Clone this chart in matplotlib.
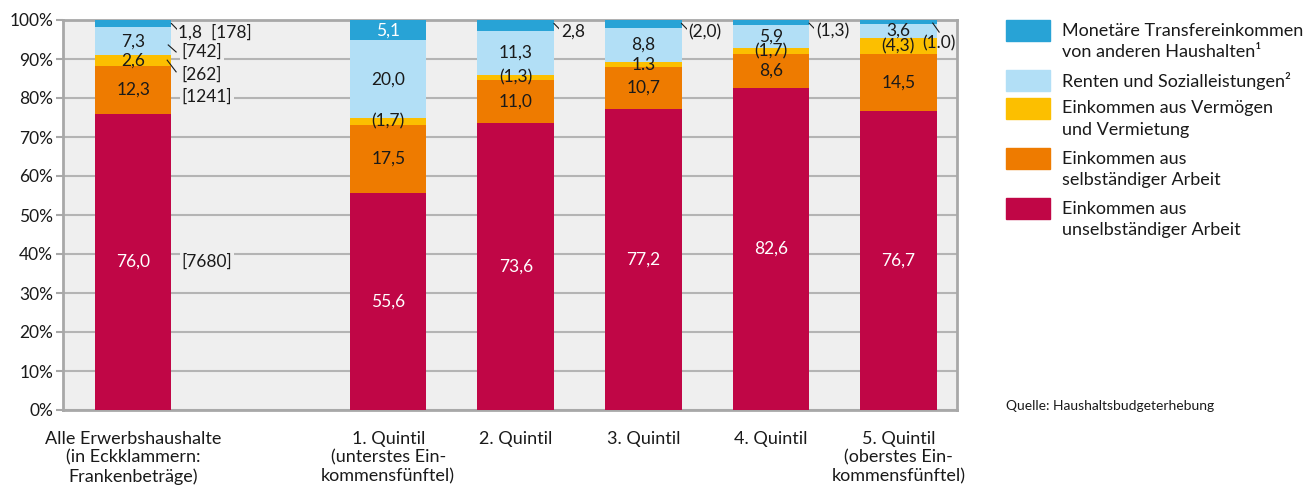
import numpy as np
import matplotlib.pyplot as plt
from matplotlib.patches import Rectangle

plt.rcParams['font.family'] = ['Lato', 'DejaVu Sans']

groups = ["Alle Erwerbshaushalte\n(in Eckklammern:\nFrankenbeträge)",
          "1. Quintil\n(unterstes Ein-\nkommensfünftel)",
          "2. Quintil", "3. Quintil", "4. Quintil",
          "5. Quintil\n(oberstes Ein-\nkommensfünftel)"]
positions = [0, 2, 3, 4, 5, 6]

# income components in %, stacked bottom to top
unselbst = [76.0, 55.6, 73.6, 77.2, 82.6, 76.7]
selbst = [12.3, 17.5, 11.0, 10.7, 8.6, 14.5]
vermoegen = [2.6, 1.7, 1.3, 1.3, 1.7, 4.3]
renten = [7.3, 20.0, 11.3, 8.8, 5.9, 3.6]
transfer = [1.8, 5.1, 2.8, 2.0, 1.3, 1.0]

lab_unselbst = ["76,0", "55,6", "73,6", "77,2", "82,6", "76,7"]
lab_selbst = ["12,3", "17,5", "11,0", "10,7", "8,6", "14,5"]
lab_vermoegen = ["2,6", "(1,7)", "(1,3)", "1.3", "(1,7)", "(4,3)"]
lab_renten = ["7,3", "20,0", "11,3", "8,8", "5,9", "3,6"]
lab_transfer = ["1,8  [178]", "5,1", "2,8", "(2,0)", "(1,3)", "(1.0)"]

# Frankenbeträge for all households (unselbst., selbst., Vermögen, Renten)
franken = ["[7680]", "[1241]", "[262]", "[742]"]

names = ["Einkommen aus\nunselbständiger Arbeit",
         "Einkommen aus\nselbständiger Arbeit",
         "Einkommen aus Vermögen\nund Vermietung",
         "Renten und Sozialleistungen²",
         "Monetäre Transfereinkommen\nvon anderen Haushalten¹"]
colors = ["#c00646", "#ee7b00", "#fcbf00", "#b2dff6", "#28a3d6"]

series = [unselbst, selbst, vermoegen, renten, transfer]
labels = [lab_unselbst, lab_selbst, lab_vermoegen, lab_renten, lab_transfer]

fig = plt.figure(figsize=(13.13, 4.87), dpi=100)
ax = fig.add_axes([63 / 1313, 77 / 487, 894 / 1313, 390 / 487])
ax.set_facecolor("#efefef")

txt = "#1a1a1a"
fs = 12.5
w = 0.6
bottom = np.zeros(len(positions))
for k, (vals, col) in enumerate(zip(series, colors)):
    vals = np.array(vals)
    ax.bar(positions, vals, w, bottom=bottom, color=col, zorder=2)
    for i, x in enumerate(positions):
        mid = bottom[i] + vals[i] / 2
        lab = labels[k][i]
        if k == 0:
            ax.text(x, mid, lab, ha="center", va="center", color="white", fontsize=fs, zorder=4)
        elif k == 4:
            top = bottom[i] + vals[i]
            if i == 1:
                ax.text(x, mid, lab, ha="center", va="center", color="white", fontsize=fs, zorder=4)
            elif i == 5:
                ax.plot([x + 0.27, x + 0.32], [top - 0.9, top - 3.2], color=txt, lw=0.8, zorder=4)
                ax.text(x + 0.19, top - 6.0, lab, ha="left", va="center", color=txt, fontsize=fs, zorder=4)
            else:
                ax.plot([x + 0.3, x + 0.345], [top - 0.9, top - 2.4], color=txt, lw=0.8, zorder=4)
                ax.text(x + 0.355, top - 3.1, lab, ha="left", va="center", color=txt, fontsize=fs, zorder=4,
                        bbox=dict(boxstyle="square,pad=0.1", fc="#efefef", ec="none"))
        else:
            ax.text(x, mid, lab, ha="center", va="center", color=txt, fontsize=fs, zorder=4)
    bottom += vals

# Frankenbeträge next to the first bar
x0 = positions[0]
cum = np.cumsum([s[0] for s in series])
fr_y = [unselbst[0] / 2, 80.3, 85.9, 91.8]
for lab, y in zip(franken, fr_y):
    ax.text(x0 + 0.38, y, lab, ha="left", va="center", color=txt, fontsize=fs, zorder=4,
            bbox=dict(boxstyle="square,pad=0.1", fc="#efefef", ec="none"))
# leader lines for [262] and [742]
ax.plot([x0 + 0.267, x0 + 0.337], [cum[2] - 1.2, cum[2] - 4.2], color=txt, lw=0.8, zorder=4)
ax.plot([x0 + 0.275, x0 + 0.337], [cum[3] - 4.6, cum[3] - 6.4], color=txt, lw=0.8, zorder=4)

ax.set_xlim(-0.55, 6.46)
ax.set_ylim(0, 100)
ax.set_yticks(np.arange(0, 101, 10))
ax.set_yticklabels([f"{v}%" for v in range(0, 101, 10)], fontsize=12.5, color=txt)
ax.set_xticks(positions)
ax.set_xticklabels(groups, fontsize=13, color=txt, linespacing=1.2)
ax.tick_params(axis="x", length=0, pad=15)
ax.tick_params(axis="y", length=5, color="#a8a8a8", width=1.5, pad=2)
ax.yaxis.grid(True, color="#b4b4b4", lw=1.5, zorder=1)
ax.set_axisbelow(True)
for sp in ax.spines.values():
    sp.set_color("#a8a8a8")
    sp.set_linewidth(2)
    sp.set_zorder(1)

# legend on the right, top entry first
W, H = 1313, 487
leg_top = [20, 70, 98, 148, 198]
for k, top in zip(range(4, -1, -1), leg_top):
    fig.add_artist(Rectangle((1006 / W, 1 - (top + 21) / H), 44 / W, 21 / H,
                             transform=fig.transFigure, color=colors[k]))
    fig.text(1062 / W, 1 - (top + 10.5) / H, names[k].split("\n")[0], ha="left", va="center",
             fontsize=13, color=txt)
    if "\n" in names[k]:
        fig.text(1062 / W, 1 - (top + 32) / H, names[k].split("\n")[1], ha="left", va="center",
                 fontsize=13, color=txt)

fig.text(1006 / W, 1 - 406 / H, "Quelle: Haushaltsbudgeterhebung", ha="left", va="center",
         fontsize=10, color=txt)

fig.savefig("out.png", dpi=100)
